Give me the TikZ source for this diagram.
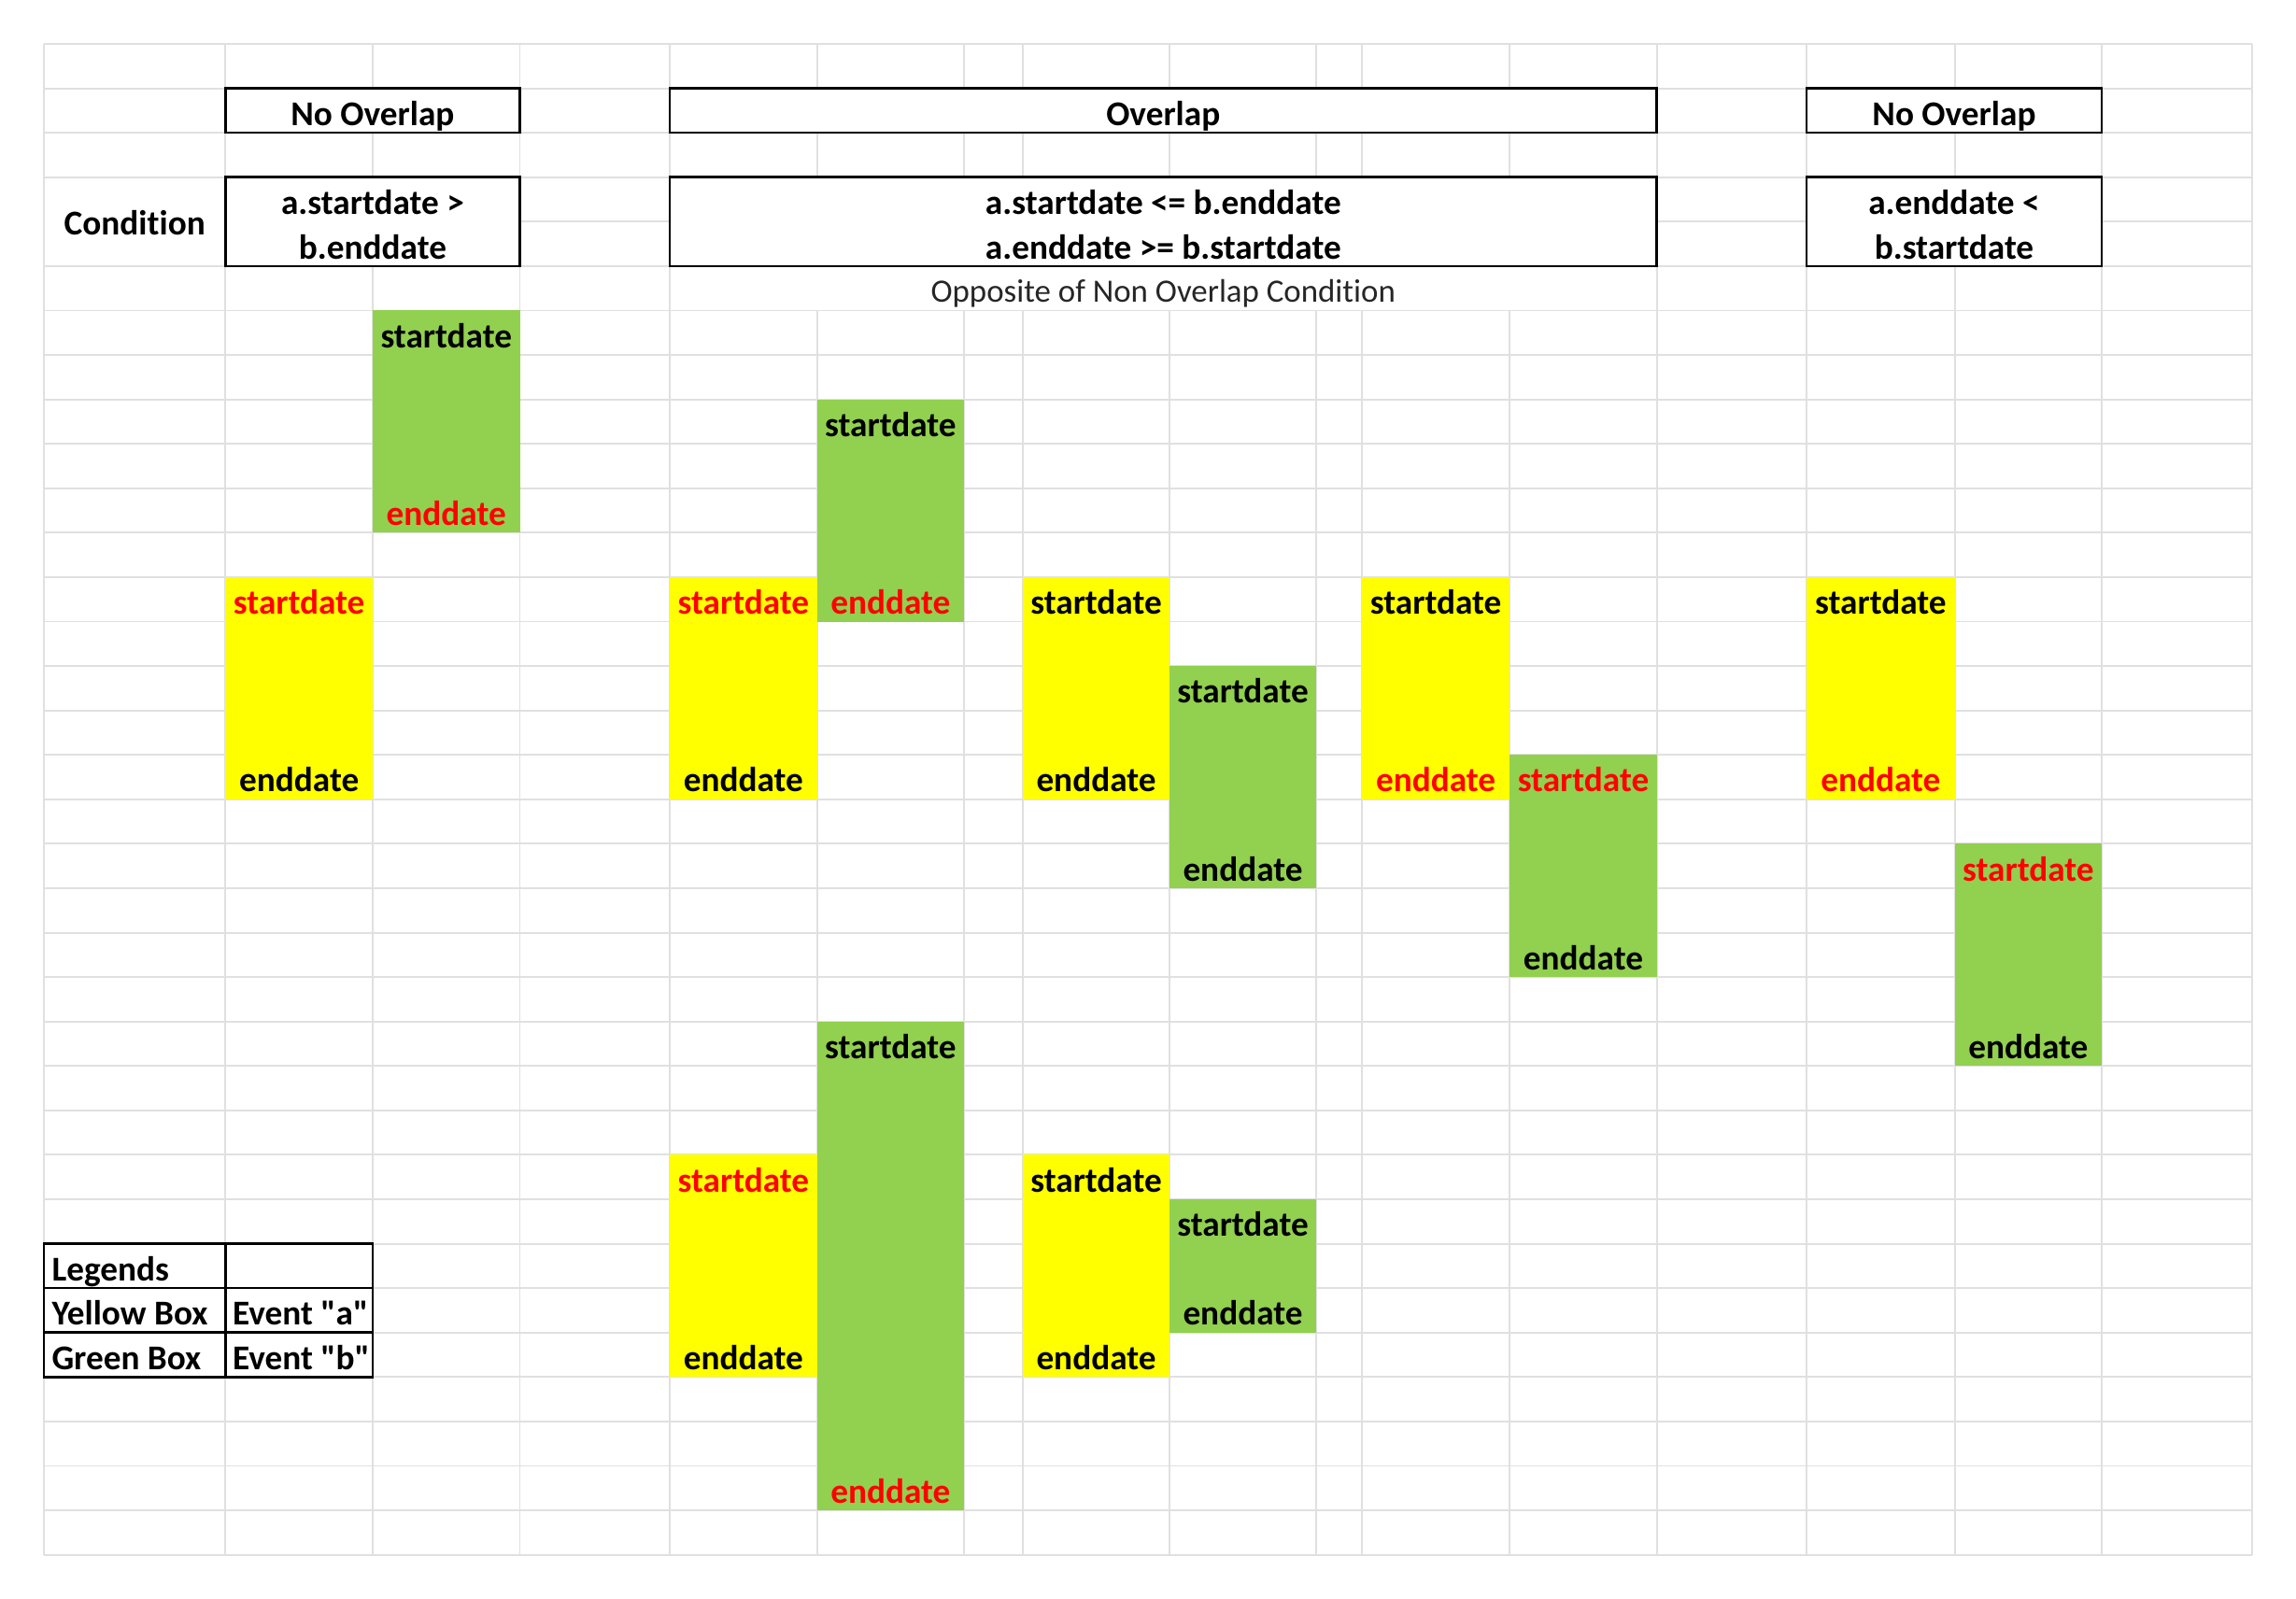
\documentclass[tikz,border=0pt]{standalone}
\usepackage{fontspec}
\setmainfont{Carlito}[Ligatures=NoCommon]
% same face without the TeX quote mapping, so " stays a straight quote
\newfontfamily\straightquotes{Carlito}[Ligatures={TeXOff,NoCommon}]
\definecolor{gridgray}{RGB}{224,224,224}
\definecolor{evyellow}{RGB}{255,255,0}
\definecolor{evgreen}{RGB}{146,208,80}
\definecolor{redtxt}{RGB}{255,0,0}
% top edge of worksheet row k+1 (rows are 30.35 units tall)
\newcommand{\rowy}[1]{30+(#1)*30.35}
% centred cell text: [style] name, x centre, row number, text
\newcommand{\celltext}[5][]{\node[txt,#1] (#2) at (#3,{\rowy{#4}-5}) {#5};}
% coloured event bar: style, left, right, first row, last row
\newcommand{\evbar}[5]{\fill[#1] (#2,{\rowy{#4-1}}) rectangle (#3,{\rowy{#5}});}
\begin{document}
\begin{tikzpicture}[x=0.4943pt, y=-0.4943pt,
  gridline/.style={draw=gridgray, line width=0.6pt},
  frame/.style={draw=black, line width=0.8pt},
  blank/.style={fill=white},
  txt/.style={font=\fontsize{11.75}{14}\selectfont\bfseries, anchor=base, inner sep=0pt},
  plain/.style={font=\fontsize{11}{13}\selectfont, text=black!85},
  hot/.style={text=redtxt},
  lefttxt/.style={anchor=base west},
  yel/.style={fill=evyellow},
  grn/.style={fill=evgreen}]
\useasboundingbox[fill=white] (0,0) rectangle (1568,1092);

% worksheet grid
\foreach \x in {30,154,254.5,355,457.3,558,658.3,698.5,798.7,898.8,930.1,1031,1131.5,1233.7,1334.9,1435.3,1537.8}
  \draw[gridline] (\x,30) -- (\x,{\rowy{34}});
\foreach \k in {0,...,34}
  \draw[gridline] (30,{\rowy{\k}}) -- (1537.8,{\rowy{\k}});

% merged cells hide the inner grid lines
\fill[blank] (30.5,{\rowy{3}+0.5}) rectangle (153.5,{\rowy{5}-0.5});
\fill[blank] (457.8,{\rowy{5}+0.5}) rectangle (1131,{\rowy{6}-0.5});
\foreach \a/\b in {154/355, 457.3/1131.5, 1233.7/1435.3} {
  \fill[blank] (\a,{\rowy{1}}) rectangle (\b,{\rowy{2}});
  \fill[blank] (\a,{\rowy{3}}) rectangle (\b,{\rowy{5}});
}

% event bars
\evbar{grn}{254.5}{355}{7}{11}
\evbar{yel}{154}{254.5}{13}{17}
\evbar{grn}{558}{658.3}{9}{13}
\evbar{yel}{457.3}{558}{13}{17}
\evbar{yel}{698.5}{798.7}{13}{17}
\evbar{grn}{798.7}{898.8}{15}{19}
\evbar{yel}{930.1}{1031}{13}{17}
\evbar{grn}{1031}{1131.5}{17}{21}
\evbar{yel}{1233.7}{1334.9}{13}{17}
\evbar{grn}{1334.9}{1435.3}{19}{23}
\evbar{grn}{558}{658.3}{23}{33}
\evbar{yel}{457.3}{558}{26}{30}
\evbar{yel}{698.5}{798.7}{26}{30}
\evbar{grn}{798.7}{898.8}{27}{29}

% header and condition frames
\foreach \a/\b in {154/355, 457.3/1131.5, 1233.7/1435.3} {
  \draw[frame] (\a,{\rowy{1}}) rectangle (\b,{\rowy{2}});
  \draw[frame] (\a,{\rowy{3}}) rectangle (\b,{\rowy{5}});
}

% legend table
\draw[frame] (30,{\rowy{27}}) rectangle (254.5,{\rowy{30}});
\draw[frame] (30,{\rowy{28}}) -- (254.5,{\rowy{28}});
\draw[frame] (30,{\rowy{29}}) -- (254.5,{\rowy{29}});
\draw[frame] (154,{\rowy{27}}) -- (154,{\rowy{30}});

% headings
\celltext{hdrleft}{254.5}{2}{No Overlap}
\celltext{hdrmid}{794.4}{2}{Overlap}
\celltext{hdrright}{1334.5}{2}{No Overlap}
\node[txt] (condlabel) at (92,160.5) {Condition};
\celltext{condleftA}{254.5}{4}{a.startdate >}
\celltext{condleftB}{254.5}{5}{b.enddate}
\celltext{condmidA}{794.4}{4}{a.startdate <= b.enddate}
\celltext{condmidB}{794.4}{5}{a.enddate >= b.startdate}
\celltext{condrightA}{1334.5}{4}{a.enddate <}
\celltext{condrightB}{1334.5}{5}{b.startdate}
\node[txt,plain] (opposite) at (794.4,{\rowy{6}-6}) {Opposite of Non Overlap Condition};

% case 1: b entirely before a
\celltext{caseAbs}{304.75}{7}{startdate}
\celltext[hot]{caseAbe}{304.75}{11}{enddate}
\celltext[hot]{caseAas}{204.25}{13}{startdate}
\celltext{caseAae}{204.25}{17}{enddate}

% case 2: b ends as a starts
\celltext{caseBbs}{608.15}{9}{startdate}
\celltext[hot]{caseBbe}{608.15}{13}{enddate}
\celltext[hot]{caseBas}{507.65}{13}{startdate}
\celltext{caseBae}{507.65}{17}{enddate}

% case 3: b starts inside a
\celltext{caseCas}{748.6}{13}{startdate}
\celltext{caseCae}{748.6}{17}{enddate}
\celltext{caseCbs}{848.75}{15}{startdate}
\celltext{caseCbe}{848.75}{19}{enddate}

% case 4: b starts as a ends
\celltext{caseDas}{980.55}{13}{startdate}
\celltext[hot]{caseDae}{980.55}{17}{enddate}
\celltext[hot]{caseDbs}{1081.25}{17}{startdate}
\celltext{caseDbe}{1081.25}{21}{enddate}

% case 5: b entirely after a
\celltext{caseEas}{1284.3}{13}{startdate}
\celltext[hot]{caseEae}{1284.3}{17}{enddate}
\celltext[hot]{caseEbs}{1385.1}{19}{startdate}
\celltext{caseEbe}{1385.1}{23}{enddate}

% case 6: b contains a
\celltext{caseFbs}{608.15}{23}{startdate}
\celltext[hot]{caseFbe}{608.15}{33}{enddate}
\celltext[hot]{caseFas}{507.65}{26}{startdate}
\celltext{caseFae}{507.65}{30}{enddate}

% case 7: a contains b
\celltext{caseGas}{748.6}{26}{startdate}
\celltext{caseGae}{748.6}{30}{enddate}
\celltext{caseGbs}{848.75}{27}{startdate}
\celltext{caseGbe}{848.75}{29}{enddate}

% legend entries
\node[txt,lefttxt] (legtitle) at (35,{\rowy{28}-5}) {Legends};
\node[txt,lefttxt] (legyellow) at (35,{\rowy{29}-5}) {Yellow Box};
\node[txt,lefttxt] (leggreen) at (35,{\rowy{30}-5}) {Green Box};
\node[txt,lefttxt] (legevta) at (158.5,{\rowy{29}-5}) {\straightquotes\bfseries Event "a"};
\node[txt,lefttxt] (legevtb) at (158.5,{\rowy{30}-5}) {\straightquotes\bfseries Event "b"};
\end{tikzpicture}
\end{document}
